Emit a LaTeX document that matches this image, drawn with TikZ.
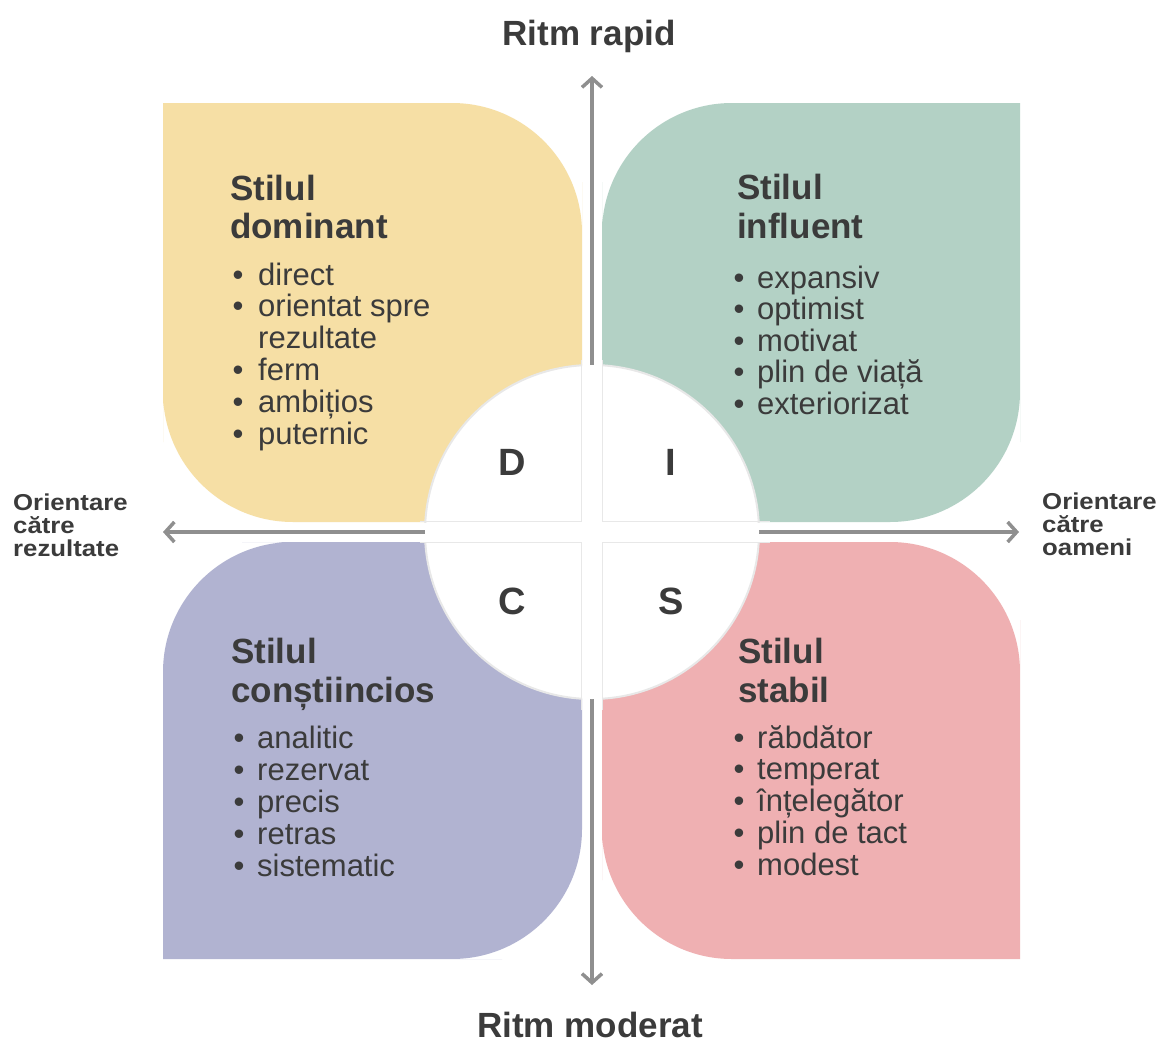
\documentclass[tikz,border=0pt]{standalone}
\usepackage{fontspec}
\setmainfont{Liberation Sans}
\newfontface\sidefont[FakeStretch=1.12]{Liberation Sans Bold}
\usetikzlibrary{arrows.meta}
\definecolor{cD}{RGB}{246,223,165}
\definecolor{cI}{RGB}{179,209,197}
\definecolor{cC}{RGB}{177,179,209}
\definecolor{cS}{RGB}{239,176,178}
\definecolor{txt}{RGB}{59,59,59}
\definecolor{axc}{RGB}{143,143,143}
\definecolor{edgec}{RGB}{232,232,232}
\begin{document}
\begin{tikzpicture}[x=1pt,y=-1pt,
  titletext/.style={font=\fontsize{35}{38}\selectfont\bfseries, text=txt, anchor=base west, inner sep=0pt},
  itemtext/.style={font=\fontsize{31}{32}\selectfont, text=txt, anchor=base west, inner sep=0pt},
  bul/.style={font=\fontsize{31}{32}\selectfont, text=txt, anchor=base, inner sep=0pt},
  sidetext/.style={font=\sidefont\fontsize{23}{23}\selectfont, text=txt, anchor=base west, inner sep=0pt},
  axtext/.style={font=\fontsize{35}{38}\selectfont\bfseries, text=txt, anchor=base, inner sep=0pt},
  letter/.style={font=\fontsize{38}{40}\selectfont\bfseries, text=txt, anchor=base, inner sep=0pt},
  axisline/.style={draw=axc, line width=3.5pt, >={Straight Barb[length=9pt,width=20pt]}, <->},
  quarter/.style={fill=white, draw=edgec, line width=2pt},
  gapedge/.style={draw=edgec, line width=1.2pt}]
\useasboundingbox (0,0) rectangle (1162,1044);
\fill[white] (0,0) rectangle (1162,1044);

% quadrant shapes
\fill[cD] (372,522) [rounded corners=130pt] -- (163,522) -- (163,312) [sharp corners] -- (163,103) -- (372,103) [rounded corners=130pt] -- (582,103) -- (582,312) [sharp corners] -- (582,522) -- cycle;
\fill[cI] (811,103) [rounded corners=130pt] -- (602,103) -- (602,312) [sharp corners] -- (602,522) -- (811,522) [rounded corners=130pt] -- (1020,522) -- (1020,312) [sharp corners] -- (1020,103) -- cycle;
\fill[cC] (163,750) [rounded corners=130pt] -- (163,542) -- (372,542) [sharp corners] -- (582,542) -- (582,750) [rounded corners=130pt] -- (582,959) -- (372,959) [sharp corners] -- (163,959) -- cycle;
\fill[cS] (811,959) [rounded corners=130pt] -- (602,959) -- (602,750) [sharp corners] -- (602,542) -- (811,542) [rounded corners=130pt] -- (1020,542) -- (1020,750) [sharp corners] -- (1020,959) -- cycle;

% axes
\coordinate (O) at (592,532);
\coordinate (axT) at (592,76);
\coordinate (axB) at (592,985);
\coordinate (axL) at (163,532);
\coordinate (axR) at (1019,532);
\draw[axisline] (axB) -- (axT);
\draw[axisline] (axL) -- (axR);

% central circle (hides the axes), four quarters
\fill[white] (O) circle[radius=167];
\begin{scope}
  \clip (400,340) rectangle (582,522);
  \draw[quarter] (O) circle[radius=167];
  \draw[gapedge] (581.5,360) -- (581.5,521.5) -- (420,521.5);
\end{scope}
\begin{scope}
  \clip (602,340) rectangle (780,522);
  \draw[quarter] (O) circle[radius=167];
  \draw[gapedge] (602.5,360) -- (602.5,521.5) -- (770,521.5);
\end{scope}
\begin{scope}
  \clip (400,542) rectangle (582,720);
  \draw[quarter] (O) circle[radius=167];
  \draw[gapedge] (581.5,710) -- (581.5,542.5) -- (420,542.5);
\end{scope}
\begin{scope}
  \clip (602,542) rectangle (780,720);
  \draw[quarter] (O) circle[radius=167];
  \draw[gapedge] (602.5,710) -- (602.5,542.5) -- (770,542.5);
\end{scope}

\node[letter] (LD) at (512,475) {D};
\node[letter] (LI) at (671,475) {I};
\node[letter] (LC) at (512,614) {C};
\node[letter] (LS) at (671,614) {S};

% axis labels
\node[axtext] (rapid) at (589,45) {Ritm rapid};
\node[axtext] (moderat) at (590,1037) {Ritm moderat};
\node[sidetext] (L1) at (13,510) {Orientare};
\node[sidetext] (L2) at (13,533) {către};
\node[sidetext] (L3) at (13,556) {rezultate};
\node[sidetext] (R1) at (1042,509) {Orientare};
\node[sidetext] (R2) at (1042,532) {către};
\node[sidetext] (R3) at (1042,555) {oameni};

% D quadrant
\node[titletext] (Dt1) at (230,200) {Stilul};
\node[titletext] (Dt2) at (230,238) {dominant};
\foreach \t [count=\i from 0] in {direct, orientat spre, rezultate, ferm, ambițios, puternic}
  \node[itemtext] (Di\i) at (258,{285+31.8*\i}) {\t};
\foreach \i in {0,1,3,4,5}
  \node[bul] (Db\i) at (238,{285+31.8*\i}) {•};

% I quadrant
\node[titletext] (It1) at (737,199) {Stilul};
\node[titletext] (It2) at (737,238) {influent};
\foreach \t [count=\i from 0] in {expansiv, optimist, motivat, plin de viață, exteriorizat}{
  \node[itemtext] (Ii\i) at (757,{288+31.5*\i}) {\t};
  \node[bul] (Ib\i) at (739,{288+31.5*\i}) {•};
}

% C quadrant
\node[titletext] (Ct1) at (231,663) {Stilul};
\node[titletext] (Ct2) at (231,702) {conștiincios};
\foreach \t [count=\i from 0] in {analitic, rezervat, precis, retras, sistematic}{
  \node[itemtext] (Ci\i) at (257,{748+32*\i}) {\t};
  \node[bul] (Cb\i) at (239,{748+32*\i}) {•};
}

% S quadrant
\node[titletext] (St1) at (738,663) {Stilul};
\node[titletext] (St2) at (738,702) {stabil};
\foreach \t [count=\i from 0] in {răbdător, temperat, înțelegător, plin de tact, modest}{
  \node[itemtext] (Si\i) at (757,{748+31.75*\i}) {\t};
  \node[bul] (Sb\i) at (739,{748+31.75*\i}) {•};
}
\end{tikzpicture}
\end{document}
